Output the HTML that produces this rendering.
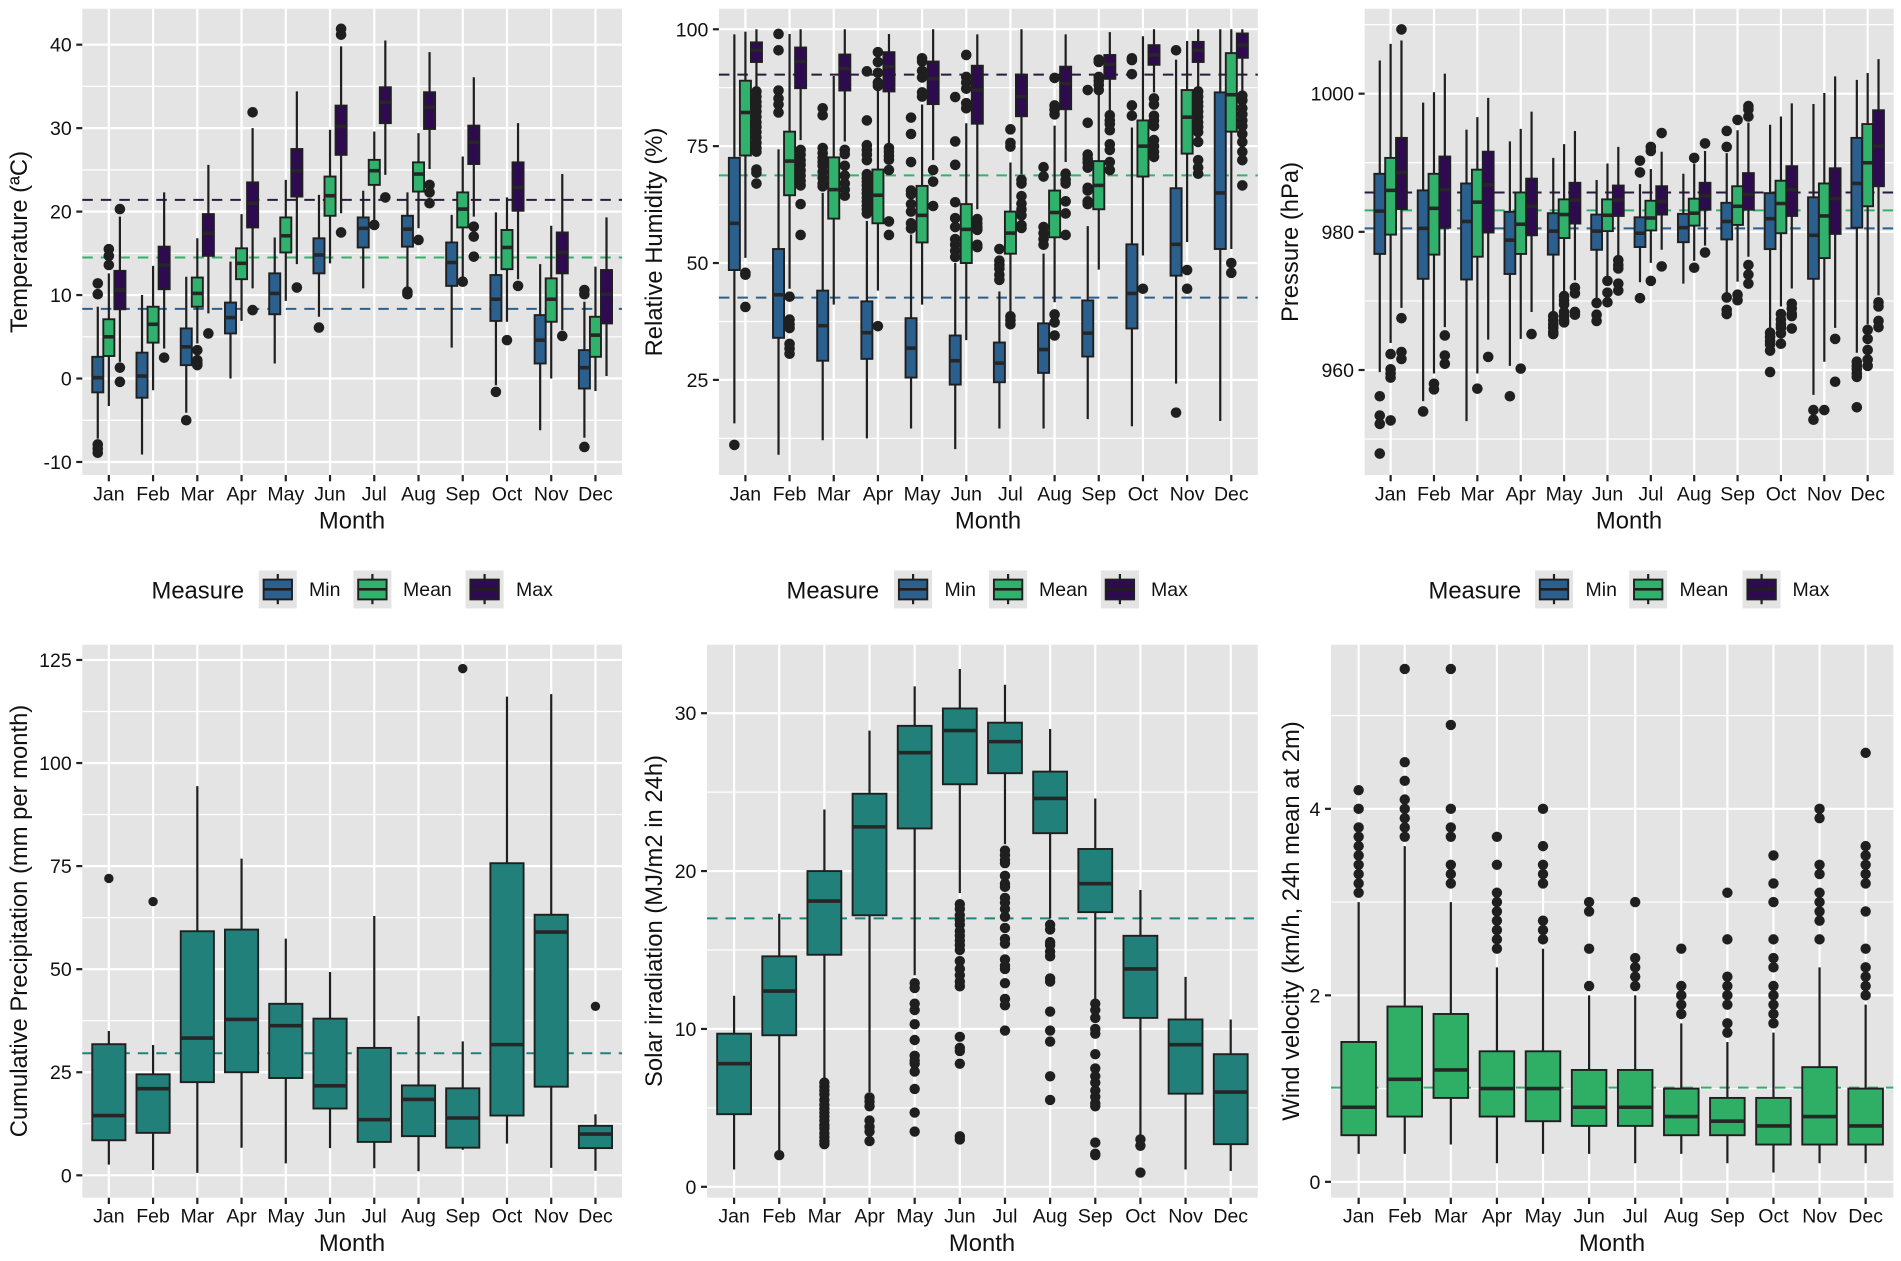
<!DOCTYPE html>
<html lang="en">
<head>
<meta charset="utf-8">
<title>Monthly climate boxplots</title>
<style>
html,body{margin:0;padding:0;background:#fff;}
svg{display:block;font-family:"Liberation Sans",Arial,sans-serif;}
.tt{font-size:23.8px;fill:#111;}
.ll{font-size:19.5px;fill:#111;}
</style>
</head>
<body>
<svg id="chart" xmlns="http://www.w3.org/2000/svg" width="1901" height="1261" viewBox="0 0 1901 1261">
<rect x="0" y="0" width="1901" height="1261" fill="#fff"/>
<g id="plots"></g>
<g>
<text class="tt" x="352" y="528.6" text-anchor="middle">Month</text>
<text class="tt" x="988" y="528.6" text-anchor="middle">Month</text>
<text class="tt" x="1629" y="528.6" text-anchor="middle">Month</text>
<text class="tt" x="352" y="1251" text-anchor="middle">Month</text>
<text class="tt" x="982" y="1251" text-anchor="middle">Month</text>
<text class="tt" x="1612" y="1251" text-anchor="middle">Month</text>
<text class="tt" transform="translate(27 242) rotate(-90)" text-anchor="middle">Temperature (ªC)</text>
<text class="tt" transform="translate(662 242) rotate(-90)" text-anchor="middle">Relative Humidity (%)</text>
<text class="tt" transform="translate(1298 242) rotate(-90)" text-anchor="middle">Pressure (hPa)</text>
<text class="tt" transform="translate(27 921) rotate(-90)" text-anchor="middle">Cumulative Precipitation (mm per month)</text>
<text class="tt" transform="translate(662 921) rotate(-90)" text-anchor="middle">Solar irradiation (MJ/m2 in 24h)</text>
<text class="tt" transform="translate(1299 921) rotate(-90)" text-anchor="middle">Wind velocity (km/h, 24h mean at 2m)</text>
</g>
<g>
<text class="tt" x="151.5" y="598.6">Measure</text>
<text class="ll" x="309" y="596">Min</text>
<text class="ll" x="403" y="596">Mean</text>
<text class="ll" x="516" y="596">Max</text>
</g>
<g>
<text class="tt" x="786.5" y="598.6">Measure</text>
<text class="ll" x="944.5" y="596">Min</text>
<text class="ll" x="1039" y="596">Mean</text>
<text class="ll" x="1151" y="596">Max</text>
</g>
<g>
<text class="tt" x="1428.5" y="598.6">Measure</text>
<text class="ll" x="1585.5" y="596">Min</text>
<text class="ll" x="1679.5" y="596">Mean</text>
<text class="ll" x="1792.5" y="596">Max</text>
</g>
</svg>
<script>
// ---- shared category labels ----
const months = ["Jan","Feb","Mar","Apr","May","Jun","Jul","Aug","Sep","Oct","Nov","Dec"];

// ---- each box row: [lower whisker, q1, median, q3, upper whisker] ----
const tempTicks = [-10,0,10,20,30,40];
const tempRefLines = [8.35,14.5,21.4];
const tempMin = [[-7.2,-1.66,0.1,2.6,8.6],[-9.1,-2.3,0.3,3.1,10],[-4.1,1.6,3.8,6,12.2],[0,5.4,7.3,9.1,14],[1.8,7.7,10.2,12.6,16.9],[7.4,12.6,14.8,16.8,22],[10.8,15.7,18,19.3,22.5],[10.8,15.8,17.9,19.5,22.3],[3.7,11.1,13.9,16.3,19.6],[-0.8,6.9,9.5,12.4,19.9],[-6.2,1.8,4.6,7.6,13.7],[-7.1,-1.2,1.3,3.4,9.2]];
const tempMinOut = [[11.4,10.1,-7.9,-8.4,-8.9],[],[-5],[],[],[6.1],[],[10.4,10.1],[],[-1.6],[],[10.6,10.1,-8.2]];
const tempMean = [[-3.3,2.7,5,7.1,12.6],[-1.4,4.3,6.5,8.6,13.5],[4.2,8.6,10.2,12.1,16.8],[6.9,11.9,13.8,15.6,19.7],[9.3,15.1,17.1,19.3,23.8],[13.8,19.5,21.9,24.2,29.8],[18.9,23.2,24.9,26.2,29.6],[18,22.4,24.5,25.9,29.4],[12.2,18.1,20.3,22.3,26.6],[6.8,13.1,15.7,17.8,21.7],[0,6.8,9.5,12,18.3],[-1.5,2.6,5.2,7.4,13.4]];
const tempMeanOut = [[15.5,14.7,13.6],[],[3.4,2.2,1.8,1.6],[],[],[],[18.4],[16.6],[11.6],[4.6],[],[]];
const tempMax = [[2,8.3,10.6,12.9,19.4],[3.6,10.7,13.6,15.8,22.3],[7.8,14.7,17.4,19.7,25.6],[10.8,18.1,21,23.5,30],[13.7,21.8,24.9,27.5,34.4],[19.8,26.8,30.2,32.7,39.8],[24.4,30.6,33.1,34.9,40.5],[25.1,29.9,32.5,34.3,39.1],[19.4,25.7,28.3,30.3,36.1],[11.9,20.1,22.9,25.9,30.6],[5.8,12.6,15.1,17.5,24.5],[0.3,6.6,10.1,13,19.3]];
const tempMaxOut = [[20.3,1.3,-0.4],[2.5],[5.4],[31.9,8.2],[10.9],[41.9,41.2,17.5],[21.7],[23.2,22.3,21],[18.2,17,14.6],[11.1],[5.1],[]];

const humTicks = [25,50,75,100];
const humRefLines = [42.6,68.75,90.3];
const humMin = [[15.7,48.5,58.5,72.5,98.9],[9,34,43.2,53,74.3],[12.1,29.1,36.6,44.1,65],[12.5,29.5,35.1,41.8,59],[14.6,25.5,31.8,38.2,56.1],[10.2,24,29.1,34.5,50],[14.6,24.5,28.6,33,43.9],[14.6,26.5,31.5,37.1,52],[16.6,30,35,42,57.9],[15.1,36,43.5,54,79],[24.2,47.3,54,66,93.5],[16.2,53,65,86.5,100]];
const humMinOut = [[11.1],[99,95.5,86.9,85.2,83.9,82.2],[83.1,81.6,74.6,73.5,72.5,71.6,70.8,69.5,68.2,67,66.4],[91,80.5,75.2,74.2,73.2,72,69,68.2,67.4,66.6,65.7,64.9,64,63.2,62.3,61.5,60.6],[81.1,77.6,71.6,65.5,64.7,62.6,61,58.5,57.4],[85.5,76,71,63,59.6,57.7,55.1,53.9,52.6,51.3],[53,50.5,49.6,48.8,47.5,46.4],[70.5,68.5,57.7,56.4,55.1,53.9],[87,80,73.2,72.3,71.5,70.4,66.1,65.5,63.2,62.6],[93.8,93.4,90.4,83.7,81.5],[95.5,18],[]];
const humMean = [[51.1,73,82.2,89,99.5],[44.5,64.5,71.8,78.1,99],[41.1,59.5,65.7,72.6,90],[44.1,58.5,64.5,70,87.7],[41.1,54.4,60.2,66.5,83.9],[33.5,50,57.2,62.6,79.9],[39.5,52,56.4,61,71.5],[41.6,55.5,60.8,65.5,79.4],[48.6,61.5,66.6,71.8,86],[51.6,68.5,75,80.5,98.5],[54.5,73.4,81.2,87,97.5],[53,78.1,86,94.9,100]];
const humMeanOut = [[47.9,47.5,40.6],[42.8,37.9,36.9,36.1,32.7,31.7,30.6],[],[95.1,93,90.7,88.6,87.9,36.5],[93.8,93.1,91.1,89.7,86.5,85.6],[94.5,89.8,88.6,87.3,84.2,83.1],[78.6,75.7,74.9,38.6,37.8,36.9],[89.6,83.7,82.8,81.8,39,37.3,34.5],[93.5,93,89.8,89,88.1,87],[44.5],[48.5,44.5],[50,47.9]];
const humMax = [[87.5,93,95.5,97.2,100],[76.3,87.4,93.1,96.1,100],[76,86.9,91.6,94.6,100],[75.4,86.7,92,95.1,99],[72,84,89.4,93.1,100],[61.5,79.8,87,92.2,98.9],[69,81.4,85.6,90.3,100],[71.6,82.9,88.4,92,98.9],[82.6,89.4,92.5,94.5,99.4],[86.5,92.4,94.5,96.6,100],[87.6,93,95.5,97.3,100],[86.5,93.9,96.6,99.1,100]];
const humMaxOut = [[86.7,85.6,84.5,83.5,82.4,81.3,80.1,79.1,78,76.9,75.7,74.6,73.8,70,69.3,67],[74.2,73.2,72,71,69.8,68.7,67.6,66.6,62.6,56],[74.2,73.3,70.8,68.7,67,65.7,64.4],[74.6,73.8,72.9,72.1,69.9,58.9,56],[69.9,67.4,62.2],[59.4,58.5,57.7,57.1,53.9,53.4],[67.8,67,64.3,62.7,61.5,60.2,58.1,57.5],[69.1,67.8,67,63.2,60.6,56],[81.6,80.5,79.7,78.4,75.4,74.2,71.6,69.9],[85.2,83.9,81.5,80.5,79.3,76.3,75,73.8,72.7],[86.7,85.6,84.5,83.5,82.4,81.3,80.1,79.1,78,75.9,72,70.4,69.1],[85.8,84.8,83.1,81.8,80.5,79.3,77.6,75.9,73.8,72,66.6]];

const presTicks = [960,980,1000];
const presRefLines = [980.5,983.1,985.7];
const presMin = [[959.7,976.8,983,988.4,1004.8],[955.5,973.2,980.5,986,998.7],[952.6,973.1,981.5,987,994.8],[960.6,973.9,978.8,982.9,993.1],[968.1,976.7,980.1,982.7,990.7],[970.4,977.4,980.1,982.5,987.5],[972.7,977.8,979.8,982.1,986.9],[972.5,978.5,980.6,982.6,988.4],[971.2,978.9,981.5,984.2,991.4],[966,977.5,981.9,985.6,995.5],[956.4,973.2,979.5,985,998.5],[962.5,980.6,987,993.6,1002]];
const presMinOut = [[956.2,953.4,952.2,947.9],[954],[],[956.2],[967.8,967.2,966.6,966.1,965.5,965.2],[969.7,968,967.1],[990.3,988.6,970.4],[],[994.6,992.3,970.5,968.7,968.1],[965.4,964.8,964.2,963.7,962.8,959.7],[954.2,952.8],[961.2,960.6,960.1,959.5,959,954.6]];
const presMean = [[963.9,979.6,986,990.7,1007.2],[959.5,976.7,983.4,988.4,1000.2],[959.5,976.4,984.3,989,996.6],[964.5,976.8,981.1,985.7,994.9],[971,979.1,982.5,984.7,992.7],[973.5,980.1,982.4,984.7,989.9],[975.5,980.2,982,984.5,989.1],[975.8,980.9,982.7,984.8,989.9],[972.8,981,983.7,986.6,994.7],[969.2,979.8,984.1,987.4,996.7],[961.2,976.2,982.3,987,1000.1],[966.6,983.7,990,995.6,1003]];
const presMeanOut = [[962.3,960.1,959.5,958.9,952.7],[958,957.2],[957.3],[960.2],[970.7,970.1,969.5,968.4,967.8,967.2,966.9],[972.9,971.2,969.8],[992.3,991.7,972.9],[990.7,974.8],[996.2,970.9,970.1],[968.1,967.3,966.6,966.1,965.3,963.8],[954.2],[965.8,964.5,962.9,961.5,960.6]];
const presMax = [[969,983.3,988.6,993.6,1007.7],[966.2,980.6,986.1,990.9,1002.9],[964.4,979.9,986.8,991.6,999.4],[968.4,979.5,983.7,987.7,997.4],[973,981.2,984.6,987.1,994.6],[976.4,982.3,984.6,986.7,992.3],[977.4,982.5,984.4,986.6,991.6],[978,983.2,985.2,987.1,991.7],[976.4,983.2,985.4,988.5,995.8],[971.8,982.3,986.1,989.5,998.6],[966.1,979.7,984.8,989.2,1002.5],[970.8,986.6,992.4,997.6,1005]];
const presMaxOut = [[1009.3,967.5,962.6,961.6],[965,962.1,960.9],[961.9],[965.2],[971.9,971.1,968.4,968],[975.9,975.2,974.7,972.5,971.5],[994.3,975],[992.8,977],[998.2,997.7,996.7,975.2,973.8,972.5],[969.6,968.9,968.1,967.8,966],[964.5,958.3],[969.8,969.2,967.1,966.2]];

const precipTicks = [0,25,50,75,100,125];
const precipRefLines = [29.6];
const precipBoxes = [[2.6,8.5,14.5,31.8,35],[1.3,10.3,21,24.5,31.6],[0.6,22.6,33.3,59.2,94.4],[6.7,25,37.8,59.6,76.8],[2.9,23.6,36.3,41.6,57.4],[6.6,16.2,21.7,38,49.3],[1.7,8.1,13.5,30.9,62.9],[1,9.5,18.4,21.8,38.6],[6.2,6.7,13.9,21.1,32.5],[7.7,14.5,31.7,75.7,116.1],[1.8,21.5,59,63.2,116.7],[1.1,6.6,10,12,14.8]];
const precipOut = [[72],[66.4],[],[],[],[],[],[],[122.9],[],[],[41]];

const solarTicks = [0,10,20,30];
const solarRefLines = [17];
const solarBoxes = [[1.1,4.6,7.8,9.7,12.1],[2.3,9.6,12.4,14.6,17.3],[6.9,14.7,18.1,20,23.9],[6,17.2,22.8,24.9,28.9],[13.4,22.7,27.5,29.2,31.7],[18.6,25.5,28.9,30.3,32.8],[21.7,26.2,28.2,29.4,31.8],[17,22.4,24.6,26.3,29],[11.8,17.4,19.2,21.4,24.6],[3.3,10.7,13.8,15.9,18.8],[1.1,5.9,9,10.6,13.3],[1,2.7,6,8.4,10.6]];
const solarOut = [[],[2],[6.6,6.35,6.1,5.85,5.5,5.2,4.95,4.7,4.45,4.2,3.9,3.7,3.4,3.15,2.9,2.7],[5.66,5.4,5.1,4.2,3.8,3.5,2.9],[12.9,12.6,11.6,11.2,10.3,9.3,8.3,8,7.8,7.3,6.2,4.7,3.5],[17.9,17.6,17.2,16.9,16.6,16.2,15.9,15.6,15.3,15,14.3,13.8,13.4,13,12.7,9.5,8.8,8.6,7.8,3.2,3],[21.3,21,20.7,20.5,19.7,19.2,19,18.3,18,17.6,17.1,16.4,15.7,15.4,14.4,14,13.8,12.9,11.9,11.5,9.9],[16.6,16.3,15.5,15.3,14.9,14.6,13.2,13,11.1,9.9,9.2,7,5.5],[11.6,11.2,10.7,10,9.7,8.4,7.5,7,6.6,6.1,5.7,5.3,5.1,2.8,2.1,2],[3,2.6,0.9],[],[]];

const windTicks = [0,2,4];
const windRefLines = [1.01];
const windBoxes = [[0.3,0.5,0.8,1.5,3],[0.3,0.7,1.1,1.88,3.6],[0.4,0.9,1.2,1.8,3],[0.2,0.7,1,1.4,2.3],[0.3,0.65,1,1.4,2.5],[0.3,0.6,0.8,1.2,2],[0.2,0.6,0.8,1.2,2],[0.3,0.5,0.7,1,1.7],[0.2,0.5,0.65,0.9,1.5],[0.1,0.4,0.6,0.9,1.6],[0.2,0.4,0.7,1.23,2.3],[0.2,0.4,0.6,1,1.9]];
const windOut = [[3.1,3.2,3.3,3.4,3.5,3.6,3.7,3.8,4,4.2],[3.7,3.8,3.9,4,4.1,4.3,4.5,5.5],[3.2,3.3,3.4,3.7,3.8,4,4.9,5.5],[2.5,2.6,2.7,2.8,2.9,3,3.1,3.4,3.7],[2.6,2.7,2.8,3.2,3.3,3.4,3.6,4],[2.1,2.5,2.9,3],[2.1,2.2,2.3,2.4,3],[1.8,1.9,2,2.1,2.5],[1.6,1.7,1.9,2,2.1,2.2,2.6,3.1],[1.7,1.8,1.9,2,2.1,2.3,2.4,2.6,3,3.2,3.5],[2.6,2.8,2.9,3,3.1,3.3,3.4,3.9,4],[2,2.1,2.2,2.3,2.5,2.9,3.2,3.3,3.4,3.5,3.6,4.6]];

const NS = "http://www.w3.org/2000/svg";
const root = document.getElementById("plots");
const BLUE = "#2a5f8e", GREEN = "#30b26c", PURPLE = "#2e0a50", TEAL = "#21817a", WIND = "#2fae66";
const INK = "#1f1f1f";

function add(parent, tag, props) {
  const el = document.createElementNS(NS, tag);
  for (const k in props) el.setAttribute(k, props[k]);
  parent.appendChild(el);
  return el;
}

function drawPanel(name, g, series, ticks, refLines, refColors) {
  const panel = add(root, "g", {});
  
  

  const [dLo, dHi] = g.domain;
  const y = v => g.bottom + (v - dLo) / (dHi - dLo) * (g.top - g.bottom);
  const step = (g.right - g.left) / (months.length + 0.2);
  const x = i => g.left + (i + 0.6) * step;

  const bg = add(panel, "rect", {x: g.left, y: g.top, width: g.right - g.left, height: g.bottom - g.top, fill: "#e4e4e4"});
  
  

  // grid: minor lines halfway between majors, plus one beyond each end when inside the panel
  const gap = ticks[1] - ticks[0];
  for (let v = ticks[0] - gap / 2; v < dHi; v += gap) {
    if (v <= dLo) continue;
    const gl = add(panel, "line", {x1: g.left, x2: g.right, y1: y(v), y2: y(v), stroke: "#fff", "stroke-width": 1.2});
    
    
  }
  ticks.forEach(v => {
    const gl = add(panel, "line", {x1: g.left, x2: g.right, y1: y(v), y2: y(v), stroke: "#fff", "stroke-width": 2.2});
    
    
    const tk = add(panel, "line", {x1: g.left - 6, x2: g.left, y1: y(v), y2: y(v), stroke: "#222", "stroke-width": 2.2});
    
    
    const lb = add(panel, "text", {x: g.left - 10.6, y: y(v) + 7, "text-anchor": "end", class: "ll"});
    
    
    lb.textContent = v;
  });
  months.forEach((m, i) => {
    const gl = add(panel, "line", {x1: x(i), x2: x(i), y1: g.top, y2: g.bottom, stroke: "#fff", "stroke-width": 2.2});
    
    
    const tk = add(panel, "line", {x1: x(i), x2: x(i), y1: g.bottom, y2: g.bottom + 6.3, stroke: "#222", "stroke-width": 2.2});
    
    
    const lb = add(panel, "text", {x: x(i), y: g.bottom + g.labelGap, "text-anchor": "middle", class: "ll"});
    
    
    lb.textContent = m;
  });

  refLines.forEach((v, r) => {
    const ln = add(panel, "line", {x1: g.left, x2: g.right, y1: y(v), y2: y(v), stroke: refColors[r], "stroke-width": 2, "stroke-dasharray": "10.5 8"});
    
    
  });

  const n = series.length;
  const boxW = n === 1 ? 0.75 * step : 0.25 * step;
  months.forEach((m, i) => {
    series.forEach((s, k) => {
      const cx = x(i) + (k - (n - 1) / 2) * 0.25 * step;
      const [lo, q1, med, q3, hi] = s.boxes[i];
      const box = add(panel, "g", {});
      
      
      const w = add(box, "line", {x1: cx, x2: cx, y1: y(lo), y2: y(hi), stroke: INK, "stroke-width": 2.2});
      
      
      const r = add(box, "rect", {x: cx - boxW / 2, y: y(q3), width: boxW, height: y(q1) - y(q3), fill: s.color, stroke: INK, "stroke-width": 1.9});
      
      
      const ml = add(box, "line", {x1: cx - boxW / 2, x2: cx + boxW / 2, y1: y(med), y2: y(med), stroke: "#262626", "stroke-width": 3.6});
      
      
      s.out[i].forEach(v => {
        const dot = add(box, "circle", {cx: cx, cy: y(v), r: g.dot, fill: INK});
        
        
      });
    });
  });
}

function drawLegendKeys(name, lefts) {
  const colors = [BLUE, GREEN, PURPLE];
  const labels = ['min', 'mean', 'max'];
  lefts.forEach((l, i) => {
    const key = add(root, "g", {});
    
    
    const bg = add(key, "rect", {x: l, y: 570.4, width: 38, height: 38, fill: "#e4e4e4"});
    
    
    const wh = add(key, "line", {x1: l + 19, x2: l + 19, y1: 574, y2: 604.2, stroke: INK, "stroke-width": 2.2});
    
    
    const r = add(key, "rect", {x: l + 4.8, y: 579.6, width: 28.4, height: 19.8, fill: colors[i], stroke: INK, "stroke-width": 1.9});
    
    
    const m = add(key, "line", {x1: l + 4.8, x2: l + 33.2, y1: 589.3, y2: 589.3, stroke: INK, "stroke-width": 2.6});
    
    
  });
}

const refTriple = [BLUE, GREEN, "#2a1a3e"];
const topRow = {top: 8.7, bottom: 475, labelGap: 25.7};
const bottomRow = {top: 644.7, bottom: 1197.7, labelGap: 25};
drawPanel('temperature', {...topRow, left: 82.3, right: 622, domain: [-11.56, 44.31], dot: 5.3},
  [{label: 'min', color: BLUE, boxes: tempMin, out: tempMinOut},
   {label: 'mean', color: GREEN, boxes: tempMean, out: tempMeanOut},
   {label: 'max', color: PURPLE, boxes: tempMax, out: tempMaxOut}], tempTicks, tempRefLines, refTriple);
drawPanel('humidity', {...topRow, left: 718.9, right: 1257.8, domain: [4.66, 104.4], dot: 5.3},
  [{label: 'min', color: BLUE, boxes: humMin, out: humMinOut},
   {label: 'mean', color: GREEN, boxes: humMean, out: humMeanOut},
   {label: 'max', color: PURPLE, boxes: humMax, out: humMaxOut}], humTicks, humRefLines, refTriple);
drawPanel('pressure', {...topRow, left: 1364.6, right: 1893.7, domain: [944.8, 1012.3], dot: 5.3},
  [{label: 'min', color: BLUE, boxes: presMin, out: presMinOut},
   {label: 'mean', color: GREEN, boxes: presMean, out: presMeanOut},
   {label: 'max', color: PURPLE, boxes: presMax, out: presMaxOut}], presTicks, presRefLines, refTriple);
drawPanel('precipitation', {...bottomRow, left: 82.3, right: 622, domain: [-5.43, 128.7], dot: 4.7},
  [{label: 'all', color: TEAL, boxes: precipBoxes, out: precipOut}], precipTicks, precipRefLines, [TEAL]);
drawPanel('solar', {...bottomRow, left: 707, right: 1257.8, domain: [-0.69, 34.34], dot: 5.2},
  [{label: 'all', color: TEAL, boxes: solarBoxes, out: solarOut}], solarTicks, solarRefLines, [TEAL]);
drawPanel('wind', {...bottomRow, left: 1331, right: 1893.3, domain: [-0.17, 5.76], dot: 5.2},
  [{label: 'all', color: WIND, boxes: windBoxes, out: windOut}], windTicks, windRefLines, [WIND]);

drawLegendKeys('temperature', [258.8, 353.4, 465.6]);
drawLegendKeys('humidity', [894.1, 989.1, 1100.9]);
drawLegendKeys('pressure', [1535, 1629.2, 1742.6]);
</script>
</body>
</html>
